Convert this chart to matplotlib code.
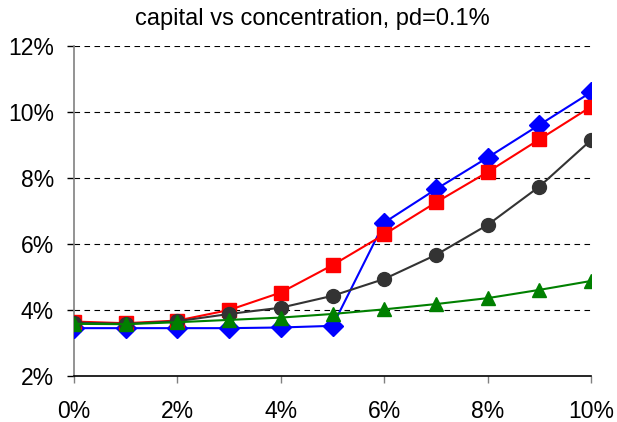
import matplotlib
matplotlib.use("Agg")
import matplotlib.pyplot as plt
from matplotlib.ticker import FuncFormatter

plt.rcParams['font.family'] = ['Liberation Sans', 'DejaVu Sans']

concentration = [0, 1, 2, 3, 4, 5, 6, 7, 8, 9, 10]
series_blue = [3.45, 3.45, 3.45, 3.45, 3.47, 3.52, 6.65, 7.66, 8.62, 9.61, 10.60]
series_red = [3.65, 3.60, 3.68, 4.00, 4.53, 5.36, 6.29, 7.26, 8.18, 9.17, 10.16]
series_black = [3.62, 3.58, 3.66, 3.88, 4.07, 4.43, 4.94, 5.67, 6.58, 7.74, 9.15]
series_green = [3.58, 3.57, 3.63, 3.70, 3.77, 3.88, 4.02, 4.18, 4.36, 4.61, 4.88]

x_ticks = [0, 2, 4, 6, 8, 10]
y_ticks = [2, 4, 6, 8, 10, 12]

fig = plt.figure(figsize=(6.17, 4.22), dpi=100)
ax = fig.add_axes([0.120, 0.109, 0.838, 0.782])

for y in y_ticks[1:]:
    ax.axhline(y, color='black', linestyle=(0, (5, 4)), linewidth=0.8, zorder=0)

ax.plot(concentration, series_blue, color='#0000FF', marker='D', markersize=10, linewidth=1.5, zorder=3)
ax.plot(concentration, series_red, color='#FF0000', marker='s', markersize=10, linewidth=1.5, zorder=3)
ax.plot(concentration, series_black, color='#333333', marker='o', markersize=10, linewidth=1.5, zorder=3)
ax.plot(concentration, series_green, color='#008000', marker='^', markersize=10.5, linewidth=1.5, zorder=3)

ax.set_xlim(0, 10)
ax.set_ylim(2, 12)
ax.set_xticks(x_ticks)
ax.set_yticks(y_ticks)
fmt = FuncFormatter(lambda v, p: f"{v:.0f}%")
ax.xaxis.set_major_formatter(fmt)
ax.yaxis.set_major_formatter(fmt)

ax.spines['top'].set_visible(False)
ax.spines['right'].set_visible(False)
ax.spines['left'].set_color('#808080')
ax.spines['left'].set_linewidth(1.2)
ax.spines['bottom'].set_color('black')
ax.spines['bottom'].set_linewidth(1.2)

ax.tick_params(axis='x', direction='out', length=5, width=1, color='#808080', labelsize=16.5, pad=12.5)
ax.tick_params(axis='y', direction='out', length=5, width=1, color='black', labelsize=16.5, pad=9.5)

fig.text(0.506, 0.941, 'capital vs concentration, pd=0.1%', fontsize=17, ha='center', va='baseline')
for sp in ax.spines.values():
    sp.set_clip_on(False)

fig.savefig('out.png', dpi=100)
